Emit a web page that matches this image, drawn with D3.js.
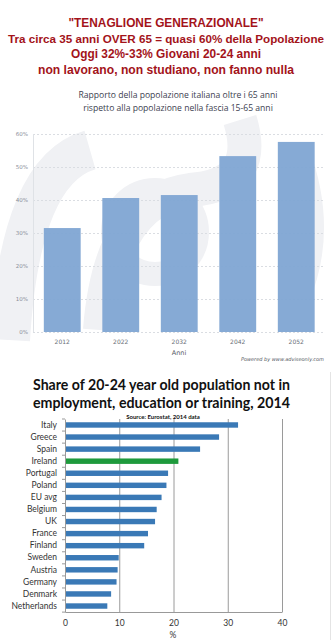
<!doctype html>
<html lang="it">
<head>
  <meta charset="utf-8">
  <title>Tenaglione generazionale - D3</title>
  <style>
    body { margin: 0; background: #fff; }
    svg { display: block; }
  </style>
</head>
<body>
  <svg width="333" height="640"></svg>

  <script src="https://cdn.jsdelivr.net/npm/d3@7"></script>
  <script>
    // top chart: ratio over 65 / 15-65
    var titleLines = ['"TENAGLIONE GENERAZIONALE"',
      'Tra circa 35 anni OVER 65 = quasi 60% della Popolazione',
      'Oggi 32%-33% Giovani 20-24 anni',
      'non lavorano, non studiano, non fanno nulla'];
    var subLines = ['Rapporto della popolazione italiana oltre i 65 anni',
      'rispetto alla popolazione nella fascia 15-65 anni'];
    var years = ['2012', '2022', '2032', '2042', '2052'];
    var ratios = [31.5, 40.6, 41.5, 53.3, 57.6];
    var yTicks = [0, 10, 20, 30, 40, 50, 60];

    // bottom chart: NEET 20-24, 2014
    var countries = ['Italy', 'Greece', 'Spain', 'Ireland', 'Portugal', 'Poland', 'EU avg', 'Belgium',
      'UK', 'France', 'Finland', 'Sweden', 'Austria', 'Germany', 'Denmark', 'Netherlands'];
    var neet = [31.9, 28.4, 24.9, 20.9, 19.0, 18.7, 17.8, 16.9, 16.6, 15.3, 14.6, 9.9, 9.7, 9.5, 8.5, 7.8];
    var xTicks = [0, 10, 20, 30, 40];

    var svg = d3.select('svg');

    // title in red, widths
    var titleW = [195, 316, 190, 256];
    svg.append('g').selectAll('text').data(titleLines).enter()
      .append('text')
      .attr('x', 166)
      .attr('y', (d, i) => [27, 43, 58, 74][i])
      .attr('text-anchor', 'middle')
      .attr('font-family', 'Liberation Sans, Arial, sans-serif')
      .attr('font-weight', 'bold')
      .attr('font-size', (d, i) => i === 1 ? 11.5 : 12.5)
      .attr('textLength', (d, i) => titleW[i])
      .attr('lengthAdjust', 'spacingAndGlyphs')
      .attr('fill', '#a3131a')
      .text(d => d);

    svg.append('g').selectAll('text').data(subLines).enter()
      .append('text')
      .attr('x', 178)
      .attr('y', (d, i) => 98 + i * 12.5)
      .attr('text-anchor', 'middle')
      .attr('font-family', 'Open Sans, sans-serif')
      .attr('font-size', 8.6)
      .attr('fill', '#3c4150')
      .text(d => d);

    var xb = d3.scaleBand().domain(years).range([33, 325.5]).paddingInner(0.37).paddingOuter(0.185);
    var y = d3.scaleLinear().domain([0, 60]).range([332, 134]);

    // faint watermark
    var wm = svg.append('g').attr('fill', 'none').attr('stroke', '#f0f1f4');
    wm.append('path').attr('d', 'M10,340 Q20,170 90,150').attr('stroke-width', 40);
    wm.append('path').attr('d', 'M100,330 Q110,200 190,190 Q260,185 240,120').attr('stroke-width', 34);
    wm.append('circle').attr('cx', 155).attr('cy', 232).attr('r', 42).attr('stroke-width', 24);
    wm.append('path').attr('d', 'M300,150 Q330,230 300,300').attr('stroke-width', 18);

    var gy = svg.append('g')
      .attr('transform', 'translate(33,0)')
      .call(d3.axisLeft(y).tickValues(yTicks).tickSize(-292).tickFormat(d => d + '%'));
    gy.select('.domain').remove();
    gy.selectAll('.tick line').attr('stroke', '#dadde2').attr('stroke-dasharray', '2,2');
    gy.selectAll('.tick text').attr('x', -5).attr('fill', '#8a8f99')
      .attr('font-family', 'DejaVu Sans, sans-serif').attr('font-size', 5.5);
    svg.append('line').attr('x1', 33.5).attr('x2', 33.5).attr('y1', 134).attr('y2', 332)
      .attr('stroke', '#dfe2e6');

    svg.append('g').selectAll('rect').data(ratios).enter()
      .append('rect')
      .attr('x', (v, i) => xb(years[i]))
      .attr('y', v => y(v))
      .attr('width', xb.bandwidth())
      .attr('height', v => y(0) - y(v))
      .attr('fill', '#7fa5d3')
      .attr('fill-opacity', 0.95);

    var gx = svg.append('g')
      .attr('transform', 'translate(0,332)')
      .call(d3.axisBottom(xb).tickSize(0).tickPadding(8));
    gx.select('.domain').remove();
    gx.selectAll('text').attr('fill', '#6a6f78')
      .attr('font-family', 'DejaVu Sans, sans-serif').attr('font-size', 6);

    svg.append('text').attr('x', 179).attr('y', 355).attr('text-anchor', 'middle')
      .attr('font-family', 'DejaVu Sans, sans-serif').attr('font-size', 6.5).attr('fill', '#555a63')
      .text('Anni');
    svg.append('text').attr('x', 324).attr('y', 361).attr('text-anchor', 'end')
      .attr('font-family', 'DejaVu Sans, sans-serif').attr('font-size', 5).attr('font-style', 'italic')
      .attr('fill', '#555a63')
      .text('Powered by  www.adviseonly.com');

    // bottom chart
    svg.append('g').selectAll('text').data(['Share of 20-24 year old population not in',
      'employment, education or training, 2014']).enter()
      .append('text')
      .attr('x', 33)
      .attr('y', (d, i) => 390 + i * 18)
      .attr('font-family', 'Lato, sans-serif')
      .attr('font-weight', 'bold')
      .attr('font-size', 14.5)
      .attr('textLength', 257)
      .attr('lengthAdjust', 'spacingAndGlyphs')
      .attr('fill', '#111')
      .text(d => d);
    svg.append('text').attr('x', 163).attr('y', 419).attr('text-anchor', 'middle')
      .attr('font-family', 'Lato, sans-serif').attr('font-weight', 'bold').attr('font-size', 6)
      .attr('fill', '#111')
      .text('Source: Eurostat, 2014 data');

    var x = d3.scaleLinear().domain([0, 40]).range([65, 282]);
    var yb = d3.scaleBand().domain(countries).range([419, 612]).paddingInner(0.55).paddingOuter(0.27);

    var gg = svg.append('g')
      .attr('transform', 'translate(0,612)')
      .call(d3.axisBottom(x).tickValues(xTicks).tickSize(0).tickPadding(8));
    gg.select('.domain').attr('stroke', '#999');
    gg.selectAll('text').attr('fill', '#333')
      .attr('font-family', 'Lato, sans-serif').attr('font-size', 8.5);
    svg.append('g').selectAll('line').data(xTicks.slice(1)).enter()
      .append('line')
      .attr('x1', d => x(d) + 0.5).attr('x2', d => x(d) + 0.5)
      .attr('y1', 419).attr('y2', 612)
      .attr('stroke', '#9a9a9a');

    svg.append('g').selectAll('rect').data(neet).enter()
      .append('rect')
      .attr('x', x(0))
      .attr('y', (v, i) => yb(countries[i]))
      .attr('width', v => x(v) - x(0))
      .attr('height', yb.bandwidth())
      .attr('fill', (v, i) => countries[i] === 'Ireland' ? '#1e9a3c' : '#3a79b6');

    var gl = svg.append('g')
      .attr('transform', 'translate(65,0)')
      .call(d3.axisLeft(yb).tickSize(0).tickPadding(8));
    gl.select('.domain').attr('stroke', '#999');
    gl.selectAll('text').attr('fill', '#333')
      .attr('font-family', 'Lato, sans-serif').attr('font-size', 8.5);
    // ticks between categories
    svg.append('g').selectAll('line').data(d3.range(countries.length + 1)).enter()
      .append('line')
      .attr('x1', 62).attr('x2', 65)
      .attr('y1', i => 419 + i * yb.step()).attr('y2', i => 419 + i * yb.step())
      .attr('stroke', '#999');

    svg.append('text').attr('x', 173).attr('y', 638).attr('text-anchor', 'middle')
      .attr('font-family', 'Lato, sans-serif').attr('font-size', 8.5).attr('fill', '#333')
      .text('%');
    svg.append('line').attr('x1', 330.5).attr('x2', 330.5).attr('y1', 372).attr('y2', 640)
      .attr('stroke', '#e4e4e4');
  </script>
</body>
</html>
